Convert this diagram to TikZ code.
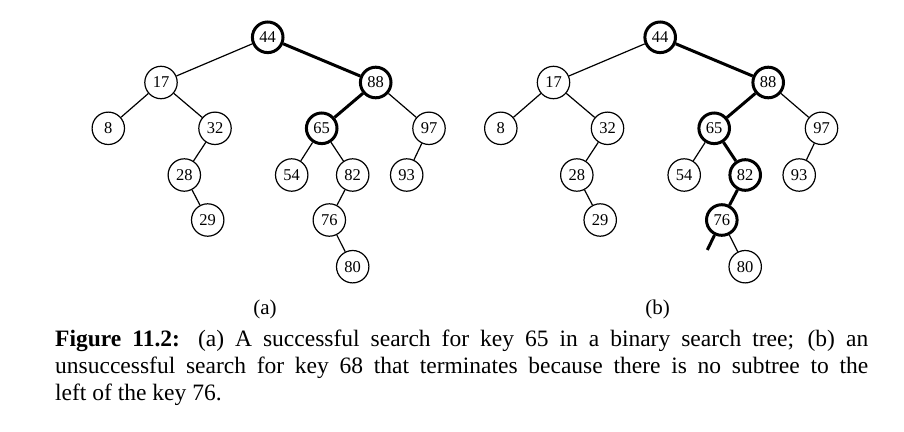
\documentclass[tikz,border=0pt]{standalone}
\usepackage{fontspec}
\setmainfont{Liberation Serif}
\begin{document}
\begin{tikzpicture}[x=1pt,y=-1pt,
  keynode/.style={circle,draw,line width=1.2pt,minimum size=32.4pt,inner sep=0pt,font=\fontsize{16.5}{18}\selectfont},
  hotnode/.style={keynode,line width=3pt,minimum size=30.6pt},
  thinline/.style={line width=1.2pt},
  hotline/.style={line width=3pt},
  sublabel/.style={anchor=base,inner sep=0pt,font=\fontsize{21}{24}\selectfont},
  captext/.style={anchor=base west,inner sep=0pt,font=\fontsize{23.5}{27}\selectfont}]
\useasboundingbox (0,0) rectangle (904,431);
% tree (a)
\node[hotnode] (a44) at (267.7,37.3) {44};
\node[keynode] (a17) at (161,82.5) {17};
\node[hotnode] (a88) at (375.7,82.5) {88};
\node[keynode] (a8) at (108.3,128.3) {8};
\node[keynode] (a32) at (215,128.3) {32};
\node[hotnode] (a65) at (321.7,128.3) {65};
\node[keynode] (a97) at (429,128.3) {97};
\node[keynode] (a28) at (184.3,175) {28};
\node[keynode] (a54) at (291.7,175) {54};
\node[keynode] (a82) at (352.7,175) {82};
\node[keynode] (a93) at (406.7,175) {93};
\node[keynode] (a29) at (207.7,220) {29};
\node[keynode] (a76) at (329.3,220) {76};
\node[keynode] (a80) at (352.7,266.7) {80};
\draw[thinline] (a44) -- (a17);
\draw[hotline] (a44) -- (a88);
\draw[thinline] (a17) -- (a8);
\draw[thinline] (a17) -- (a32);
\draw[thinline] (a32) -- (a28);
\draw[thinline] (a28) -- (a29);
\draw[hotline] (a88) -- (a65);
\draw[thinline] (a88) -- (a97);
\draw[thinline] (a65) -- (a54);
\draw[thinline] (a65) -- (a82);
\draw[thinline] (a82) -- (a76);
\draw[thinline] (a76) -- (a80);
\draw[thinline] (a97) -- (a93);
% tree (b)
\begin{scope}[shift={(392.5,0)}]
\node[hotnode] (b44) at (267.7,37.3) {44};
\node[keynode] (b17) at (161,82.5) {17};
\node[hotnode] (b88) at (375.7,82.5) {88};
\node[keynode] (b8) at (108.3,128.3) {8};
\node[keynode] (b32) at (215,128.3) {32};
\node[hotnode] (b65) at (321.7,128.3) {65};
\node[keynode] (b97) at (429,128.3) {97};
\node[keynode] (b28) at (184.3,175) {28};
\node[keynode] (b54) at (291.7,175) {54};
\node[hotnode] (b82) at (352.7,175) {82};
\node[keynode] (b93) at (406.7,175) {93};
\node[keynode] (b29) at (207.7,220) {29};
\node[hotnode] (b76) at (329.3,220) {76};
\node[keynode] (b80) at (352.7,266.7) {80};
\coordinate (bend) at (314.8,250);
\end{scope}
\draw[thinline] (b44) -- (b17);
\draw[hotline] (b44) -- (b88);
\draw[thinline] (b17) -- (b8);
\draw[thinline] (b17) -- (b32);
\draw[thinline] (b32) -- (b28);
\draw[thinline] (b28) -- (b29);
\draw[hotline] (b88) -- (b65);
\draw[thinline] (b88) -- (b97);
\draw[thinline] (b65) -- (b54);
\draw[hotline] (b65) -- (b82);
\draw[hotline] (b82) -- (b76);
\draw[thinline] (b76) -- (b80);
\draw[thinline] (b97) -- (b93);
\draw[hotline] (b76) -- (bend);
% sub-labels
\node[sublabel] (la) at (265,314) {(a)};
\node[sublabel] (lb) at (657.5,314) {(b)};
% caption
\node[captext] (cap1) at (55,346) {\makebox[813pt][s]{\textbf{Figure 11.2:} (a) A successful search for key 65 in a binary search tree; (b) an}};
\node[captext] (cap2) at (55,373) {\makebox[813pt][s]{unsuccessful search for key 68 that terminates because there is no subtree to the}};
\node[captext] (cap3) at (55,400) {left of the key 76.};
\end{tikzpicture}
\end{document}
